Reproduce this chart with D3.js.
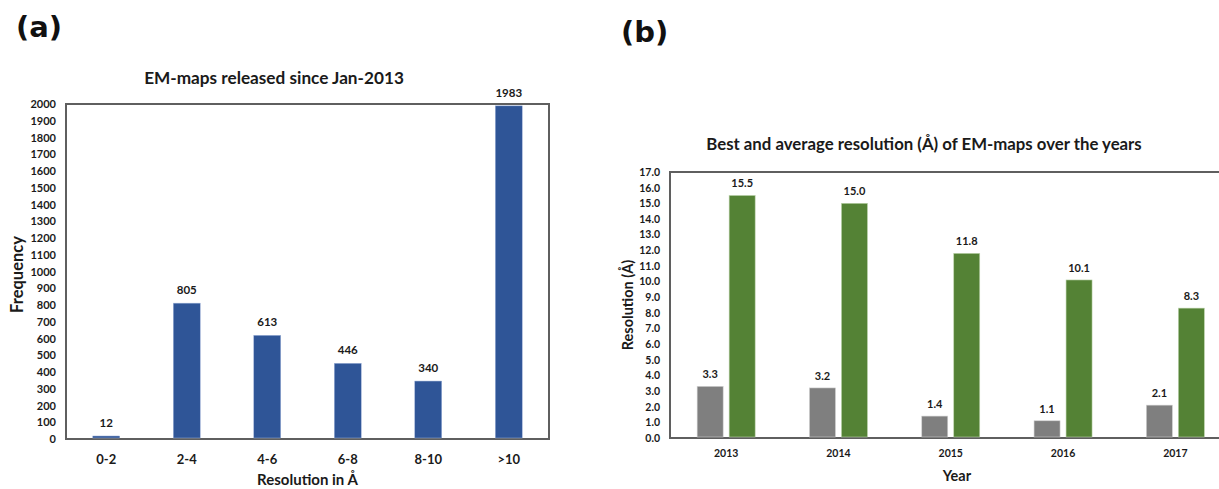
<!DOCTYPE html>
<html><head><meta charset="utf-8">
<script src="https://cdn.jsdelivr.net/npm/d3@7/dist/d3.min.js"></script>
<style>
body{margin:0;background:#fff;}
svg{display:block;font-family:Lato,"Open Sans",sans-serif;}
.b{font-weight:bold;fill:#1a1a1a;}
</style></head><body>
<svg id="c" width="1219" height="489"></svg>
<script>
// ---- Data (a) ----
const resCategories = ["0-2","2-4","4-6","6-8","8-10",">10"];
const resCounts = [12, 805, 613, 446, 340, 1983];
const freqTicks = d3.range(0, 2001, 100);
// ---- Data (b) ----
const years = ["2013","2014","2015","2016","2017"];
const bestRes = [3.3, 3.2, 1.4, 1.1, 2.1];
const avgRes = [15.5, 15.0, 11.8, 10.1, 8.3];
const resTicks = d3.range(0, 17.01, 1);

const svg = d3.select("#c");
const frameColor = "#5f5f5f";

// Panel labels
svg.append("text").attr("x",16).attr("y",37).attr("font-family","DejaVu Sans").attr("font-weight","bold").attr("font-size",29).attr("fill","#111").text("(a)");
svg.append("text").attr("x",621).attr("y",42).attr("font-family","DejaVu Sans").attr("font-weight","bold").attr("font-size",29).attr("fill","#111").text("(b)");

// ---------- Chart (a) ----------
{
  const L=66,R=549,T=104,B=439;
  const x = d3.scaleBand().domain(resCategories).range([L,R]).paddingInner(0.665).paddingOuter(0.3325);
  const y = d3.scaleLinear().domain([0,2000]).range([B,T]);
  const g = svg.append("g");
  g.append("path").attr("d",`M${L},${B}V${T}H${R}V${B}Z`).attr("fill","none").attr("stroke",frameColor).attr("stroke-width",2);
  g.append("text").attr("class","b").attr("x",274).attr("y",84).attr("text-anchor","middle").attr("font-size",17.2).text("EM-maps released since Jan-2013");
  g.selectAll("rect.bar").data(resCounts).join("rect").attr("class","bar")
    .attr("x",(d,i)=>x(resCategories[i])).attr("width",x.bandwidth())
    .attr("y",d=>y(d)-1).attr("height",d=>B-y(d))
    .attr("fill","#2f5597").attr("stroke","#9fb3da").attr("stroke-width",0.5);
  g.selectAll("text.val").data(resCounts).join("text").attr("class","val b")
    .attr("x",(d,i)=>x(resCategories[i])+x.bandwidth()/2).attr("y",d=>y(d)-10)
    .attr("text-anchor","middle").attr("font-size",11.5).text(d=>d);
  const ya = g.append("g").attr("transform",`translate(${L},0)`)
    .call(d3.axisLeft(y).tickValues(freqTicks).tickSize(0).tickPadding(10).tickFormat(d3.format("d")));
  ya.select(".domain").remove();
  ya.selectAll("text").attr("class","b").attr("font-size",11).attr("font-family","Lato,'Open Sans',sans-serif");
  const xa = g.append("g").attr("transform",`translate(0,${B})`)
    .call(d3.axisBottom(x).tickSize(0).tickPadding(16));
  xa.select(".domain").remove();
  xa.selectAll("text").attr("class","b").attr("font-size",13).attr("font-family","Lato,'Open Sans',sans-serif");
  g.append("text").attr("class","b").attr("x",(L+R)/2).attr("y",485).attr("text-anchor","middle").attr("font-size",15).text("Resolution in Å");
  g.append("text").attr("class","b").attr("transform",`translate(23,${(T+B)/2+3}) rotate(-90)`).attr("text-anchor","middle").attr("font-size",16.5).text("Frequency");
}

// ---------- Chart (b) ----------
{
  const L=670,R=1231.5,T=172,B=438;
  const x0 = d3.scaleBand().domain(years).range([L,R]).paddingInner(1-58/112.3).paddingOuter((1-58/112.3)/2);
  const x1 = d3.scaleBand().domain(["best","avg"]).range([0,x0.bandwidth()]).paddingInner(0.1875);
  const y = d3.scaleLinear().domain([0,17]).range([B,T]);
  const g = svg.append("g");
  g.append("path").attr("d",`M${R},${B}H${L}V${T}H${R}`).attr("fill","none").attr("stroke",frameColor).attr("stroke-width",2);
  g.append("text").attr("class","b").attr("x",924).attr("y",150).attr("text-anchor","middle").attr("font-size",16.8).text("Best and average resolution (Å) of EM-maps over the years");
  const series = [{key:"best",vals:bestRes,color:"#7f7f7f",stroke:"#d0d0d0"},{key:"avg",vals:avgRes,color:"#548235",stroke:"#bcd3ab"}];
  series.forEach(s=>{
    g.selectAll("rect."+s.key).data(s.vals).join("rect").attr("class",s.key)
      .attr("x",(d,i)=>x0(years[i])+x1(s.key)).attr("width",x1.bandwidth())
      .attr("y",d=>y(d)).attr("height",d=>B-1-y(d))
      .attr("fill",s.color).attr("stroke",s.stroke).attr("stroke-width",0.6);
    g.selectAll("text.v"+s.key).data(s.vals).join("text").attr("class","v"+s.key+" b")
      .attr("x",(d,i)=>x0(years[i])+x1(s.key)+x1.bandwidth()/2).attr("y",d=>y(d)-8)
      .attr("text-anchor","middle").attr("font-size",11).text(d=>d.toFixed(1));
  });
  const ya = g.append("g").attr("transform",`translate(${L},0)`)
    .call(d3.axisLeft(y).tickValues(resTicks).tickSize(0).tickPadding(10).tickFormat(d3.format(".1f")));
  ya.select(".domain").remove();
  ya.selectAll("text").attr("class","b").attr("font-size",10.5).attr("font-family","Lato,'Open Sans',sans-serif");
  const xa = g.append("g").attr("transform",`translate(0,${B})`)
    .call(d3.axisBottom(x0).tickSize(0).tickPadding(12));
  xa.select(".domain").remove();
  xa.selectAll("text").attr("class","b").attr("font-size",10.5).attr("font-family","Lato,'Open Sans',sans-serif");
  g.append("text").attr("class","b").attr("x",957).attr("y",481).attr("text-anchor","middle").attr("font-size",14.5).text("Year");
  g.append("text").attr("class","b").attr("transform",`translate(633,${(T+B)/2}) rotate(-90)`).attr("text-anchor","middle").attr("font-size",14.5).text("Resolution (Å)");
}
</script></body></html>
